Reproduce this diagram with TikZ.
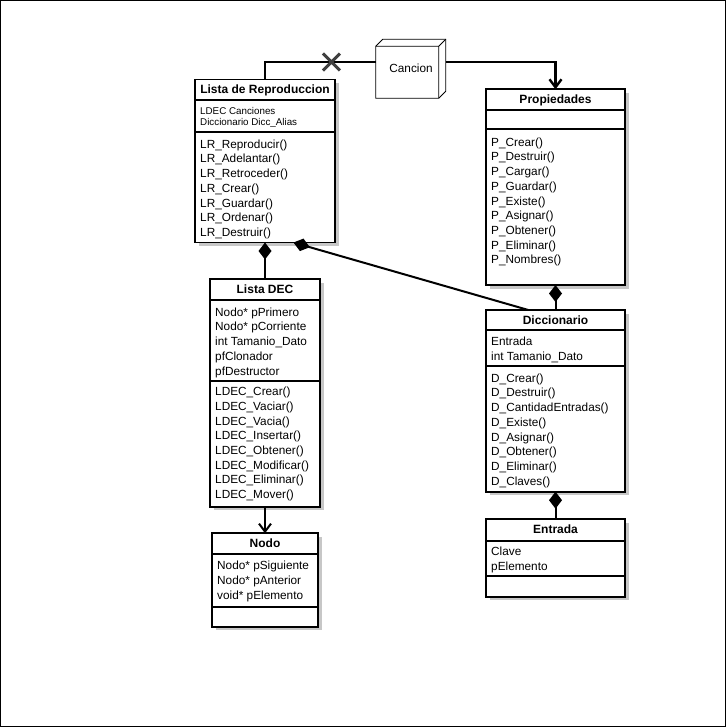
\documentclass[tikz,border=0pt]{standalone}
\usepackage{fontspec}
\setmainfont{Liberation Sans}
\usetikzlibrary{arrows.meta,shapes.misc,shadows}

\tikzset{
  umlbox/.style={draw, line width=1.8pt, fill=white, anchor=north west, inner sep=0pt, outer sep=0pt,
    drop shadow={shadow xshift=3.5pt, shadow yshift=-3.5pt, fill=black!22, opacity=1}},
  sepline/.style={line width=1.8pt},
  classname/.style={anchor=base, inner sep=0pt, font=\bfseries\fontsize{12}{14}\selectfont},
  members/.style={anchor=north west, inner sep=0pt, align=left, font=\fontsize{11.8}{14.7}\selectfont},
  smallmembers/.style={members, font=\fontsize{9.8}{11.7}\selectfont},
  link/.style={line width=2.4pt},
  compos/.style={line width=2pt, {Diamond[length=17pt,width=13pt]}-},
  navarrow/.style={-{Straight Barb[length=8pt,width=12pt]}},
  crossmark/.style={cross out, draw=black!75, line width=3pt, minimum size=14pt, inner sep=0pt},
}

\begin{document}
\begin{tikzpicture}[x=1pt, y=-1pt]
  \useasboundingbox (0,0) rectangle (726,727);
  \draw[line width=1pt] (0.5,0.5) rectangle (725.5,726.5);

  % Lista de Reproduccion
  \node[umlbox, minimum width=140pt, minimum height=163pt] (lr) at (195,79.5) {};
  \draw[sepline] (195,100) -- (335,100);
  \draw[sepline] (195,131.7) -- (335,131.7);
  \node[classname] (lrName) at (265,93.5) {Lista de Reproduccion};
  \node[smallmembers] (lrAttr) at (200,107) {LDEC Canciones\\Diccionario Dicc\_Alias};
  \node[members] (lrOps) at (200,139.5) {LR\_Reproducir()\\LR\_Adelantar()\\LR\_Retroceder()\\LR\_Crear()\\LR\_Guardar()\\LR\_Ordenar()\\LR\_Destruir()};

  % Propiedades
  \node[umlbox, minimum width=139pt, minimum height=195.7pt] (prop) at (486,89.3) {};
  \draw[sepline] (486,110) -- (625,110);
  \draw[sepline] (486,129.3) -- (625,129.3);
  \node[classname] (propName) at (555.5,103.3) {Propiedades};
  \node[members] (propOps) at (491,137.5) {P\_Crear()\\P\_Destruir()\\P\_Cargar()\\P\_Guardar()\\P\_Existe()\\P\_Asignar()\\P\_Obtener()\\P\_Eliminar()\\P\_Nombres()};

  % Lista DEC
  \node[umlbox, minimum width=110pt, minimum height=227.4pt] (ldec) at (210,279.3) {};
  \draw[sepline] (210,300) -- (320,300);
  \draw[sepline] (210,380.7) -- (320,380.7);
  \node[classname] (ldecName) at (265,293.3) {Lista DEC};
  \node[members] (ldecAttr) at (215,307.5) {Nodo* pPrimero\\Nodo* pCorriente\\int Tamanio\_Dato\\pfClonador\\pfDestructor};
  \node[members] (ldecOps) at (215,387) {LDEC\_Crear()\\LDEC\_Vaciar()\\LDEC\_Vacia()\\LDEC\_Insertar()\\LDEC\_Obtener()\\LDEC\_Modificar()\\LDEC\_Eliminar()\\LDEC\_Mover()};

  % Diccionario
  \node[umlbox, minimum width=139pt, minimum height=181.7pt] (dicc) at (486,310) {};
  \draw[sepline] (486,330) -- (625,330);
  \draw[sepline] (486,366) -- (625,366);
  \node[classname] (diccName) at (555.5,324) {Diccionario};
  \node[members] (diccAttr) at (491,337) {Entrada\\int Tamanio\_Dato};
  \node[members] (diccOps) at (491,373.5) {D\_Crear()\\D\_Destruir()\\D\_CantidadEntradas()\\D\_Existe()\\D\_Asignar()\\D\_Obtener()\\D\_Eliminar()\\D\_Claves()};

  % Entrada
  \node[umlbox, minimum width=139pt, minimum height=77.4pt] (entrada) at (486,519.3) {};
  \draw[sepline] (486,540.7) -- (625,540.7);
  \draw[sepline] (486,576) -- (625,576);
  \node[classname] (entradaName) at (555.5,533.3) {Entrada};
  \node[members] (entradaAttr) at (491,547) {Clave\\pElemento};

  % Nodo
  \node[umlbox, minimum width=106pt, minimum height=93.4pt] (nodo) at (212,533.3) {};
  \draw[sepline] (212,554.3) -- (318,554.3);
  \draw[sepline] (212,606.7) -- (318,606.7);
  \node[classname] (nodoName) at (265,547.3) {Nodo};
  \node[members] (nodoAttr) at (217,561) {Nodo* pSiguiente\\Nodo* pAnterior\\void* pElemento};

  % Cancion (3D box)
  \node[minimum width=70pt, minimum height=59pt, inner sep=0pt, font=\fontsize{11.8}{14}\selectfont] (cancion) at (411,68.5) {Cancion};
  \draw[line width=0.8pt] (cancion.south west) -- ++(0,-52) -- ++(7,-7) -- ++(63,0) -- ++(0,52) -- ++(-7,7) -- cycle;
  \draw[line width=0.8pt] (cancion.south west) ++(0,-52) -- ++(63,0) -- ++(0,52) ++(0,-52) -- ++(7,-7);

  % Links
  \draw[link] (lr.north) |- ([yshift=6.5pt]cancion.west) node[crossmark, pos=0.8] (noNav) {};
  \draw[link, navarrow] ([yshift=6.5pt]cancion.east) -| (prop.north);
  \draw[compos] (lr.south) -- (ldec.north);
  \draw[compos] ([xshift=28.5pt]lr.south) -- ([xshift=-27.2pt]dicc.north);
  \draw[compos] (prop.south) -- (dicc.north);
  \draw[compos] (dicc.south) -- (entrada.north);
  \draw[line width=2pt, navarrow] (ldec.south) -- (nodo.north);
\end{tikzpicture}
\end{document}
